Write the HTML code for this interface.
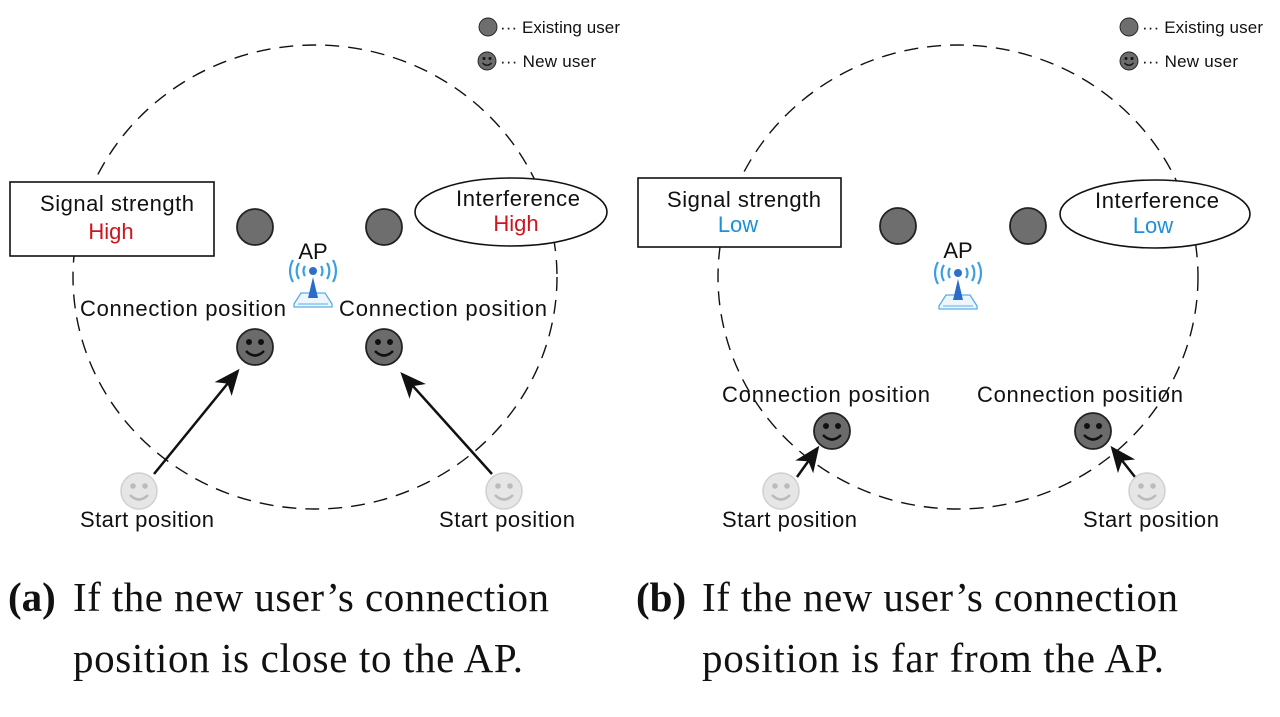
<!DOCTYPE html>
<html><head><meta charset="utf-8"><style>
html,body{margin:0;padding:0;background:#fff;}
svg{display:block;}
.s{font-family:"Liberation Sans",sans-serif;font-size:22px;fill:#111;}
.t{font-family:"Liberation Serif",serif;font-size:41px;fill:#111;}
</style></head><body>
<svg width="1280" height="717" viewBox="0 0 1280 717" xmlns="http://www.w3.org/2000/svg">
<defs>
<marker id="ah2" markerWidth="26" markerHeight="26" refX="22" refY="13" orient="auto" markerUnits="userSpaceOnUse" viewBox="0 0 26 26">
<path d="M0,2 L26,13 L0,24 L7,13 Z" fill="#111"/></marker>
<g id="dark"><circle r="18" fill="#6b6b6b" stroke="#222" stroke-width="1.8"/><circle cx="-6" cy="-5" r="3" fill="#111"/><circle cx="6" cy="-5" r="3" fill="#111"/><path d="M-9,4 Q0,13 9,4" stroke="#111" stroke-width="2.5" fill="none"/></g>
<g id="light"><circle r="18" fill="#e6e6e6" stroke="#d0d0d0" stroke-width="1.5"/><circle cx="-6" cy="-5" r="2.8" fill="#bbb"/><circle cx="6" cy="-5" r="2.8" fill="#bbb"/><path d="M-9,4 Q0,13 9,4" stroke="#bbb" stroke-width="2.5" fill="none"/></g>
<g id="ex"><circle r="18" fill="#6e6e6e" stroke="#222" stroke-width="1.8"/></g>
<g id="ap">
<path d="M-8,-5 A9,9 0 0 0 -8,5 M8,-5 A9,9 0 0 1 8,5 M-14,-8 A15,15 0 0 0 -14,8 M14,-8 A15,15 0 0 1 14,8 M-20,-11 A22,22 0 0 0 -20,11 M20,-11 A22,22 0 0 1 20,11" stroke="#3aa0e0" stroke-width="2.2" fill="none"/>
<circle r="4" fill="#2f6fc8"/>
<path d="M-12,22 L12,22 L19,33 L19,36 L-19,36 L-19,33 Z" fill="#eef6fd" stroke="#5aaee6" stroke-width="1.3"/>
<path d="M-15,33 L15,33" stroke="#5aaee6" stroke-width="1"/>
<path d="M-5,27 L0,6 L5,27 Z" fill="#2a6cc8"/>
</g>
</defs>

<!-- LEFT PANEL -->
<ellipse cx="315" cy="277" rx="242" ry="232" fill="none" stroke="#111" stroke-width="1.4" stroke-dasharray="14,9"/>
<rect x="10" y="182" width="204" height="74" fill="#fff" stroke="#111" stroke-width="1.6"/>
<text class="s" x="117" y="211" text-anchor="middle" textLength="154">Signal strength</text>
<text class="s" x="111" y="239" text-anchor="middle" style="fill:#d0141e">High</text>
<ellipse cx="511" cy="212" rx="96" ry="34" fill="#fff" stroke="#111" stroke-width="1.6"/>
<text class="s" x="518" y="206" text-anchor="middle" textLength="124">Interference</text>
<text class="s" x="516" y="231" text-anchor="middle" style="fill:#d0141e">High</text>
<use href="#ex" x="255" y="227"/><use href="#ex" x="384" y="227"/>
<text class="s" x="313" y="259" text-anchor="middle">AP</text>
<use href="#ap" x="313" y="271"/>
<text class="s" x="80" y="316" textLength="206">Connection position</text>
<text class="s" x="339" y="316" textLength="208">Connection position</text>
<use href="#dark" x="255" y="347"/><use href="#dark" x="384" y="347"/>
<line x1="154" y1="474" x2="237" y2="372" stroke="#111" stroke-width="2.5" marker-end="url(#ah2)"/>
<line x1="492" y1="474" x2="403" y2="375" stroke="#111" stroke-width="2.5" marker-end="url(#ah2)"/>
<use href="#light" x="139" y="491"/><use href="#light" x="504" y="491"/>
<text class="s" x="80" y="527" textLength="134">Start position</text>
<text class="s" x="439" y="527" textLength="136">Start position</text>
<use href="#ex" transform="translate(488,27) scale(0.5)"/>
<text class="s" x="500" y="33" style="font-size:17px" textLength="120">··· Existing user</text>
<use href="#dark" transform="translate(487,61) scale(0.5)"/>
<text class="s" x="500" y="67" style="font-size:17px" textLength="96">··· New user</text>

<!-- RIGHT PANEL -->
<ellipse cx="958" cy="277" rx="240" ry="232" fill="none" stroke="#111" stroke-width="1.4" stroke-dasharray="14,9"/>
<rect x="638" y="178" width="203" height="69" fill="#fff" stroke="#111" stroke-width="1.6"/>
<text class="s" x="744" y="207" text-anchor="middle" textLength="154">Signal strength</text>
<text class="s" x="738" y="232" text-anchor="middle" style="fill:#1e8fd8">Low</text>
<ellipse cx="1155" cy="214" rx="95" ry="34" fill="#fff" stroke="#111" stroke-width="1.6"/>
<text class="s" x="1157" y="208" text-anchor="middle" textLength="124">Interference</text>
<text class="s" x="1153" y="233" text-anchor="middle" style="fill:#1e8fd8">Low</text>
<use href="#ex" x="898" y="226"/><use href="#ex" x="1028" y="226"/>
<text class="s" x="958" y="258" text-anchor="middle">AP</text>
<use href="#ap" x="958" y="273"/>
<text class="s" x="722" y="402" textLength="208">Connection position</text>
<text class="s" x="977" y="402" textLength="206">Connection position</text>
<use href="#dark" x="832" y="431"/><use href="#dark" x="1093" y="431"/>
<line x1="797" y1="477" x2="817" y2="449" stroke="#111" stroke-width="2.5" marker-end="url(#ah2)"/>
<line x1="1135" y1="477" x2="1113" y2="449" stroke="#111" stroke-width="2.5" marker-end="url(#ah2)"/>
<use href="#light" x="781" y="491"/><use href="#light" x="1147" y="491"/>
<text class="s" x="722" y="527" textLength="135">Start position</text>
<text class="s" x="1083" y="527" textLength="136">Start position</text>
<use href="#ex" transform="translate(1129,27) scale(0.5)"/>
<text class="s" x="1142" y="33" style="font-size:17px" textLength="121">··· Existing user</text>
<use href="#dark" transform="translate(1129,61) scale(0.5)"/>
<text class="s" x="1142" y="67" style="font-size:17px" textLength="96">··· New user</text>

<!-- CAPTIONS -->
<text class="t" x="8" y="611"><tspan font-weight="bold">(a)</tspan></text>
<text class="t" x="73" y="611" textLength="476">If the new user’s connection</text>
<text class="t" x="73" y="672" textLength="450">position is close to the AP.</text>
<text class="t" x="636" y="611"><tspan font-weight="bold">(b)</tspan></text>
<text class="t" x="702" y="611" textLength="476">If the new user’s connection</text>
<text class="t" x="702" y="672" textLength="462">position is far from the AP.</text>
</svg>
</body></html>
